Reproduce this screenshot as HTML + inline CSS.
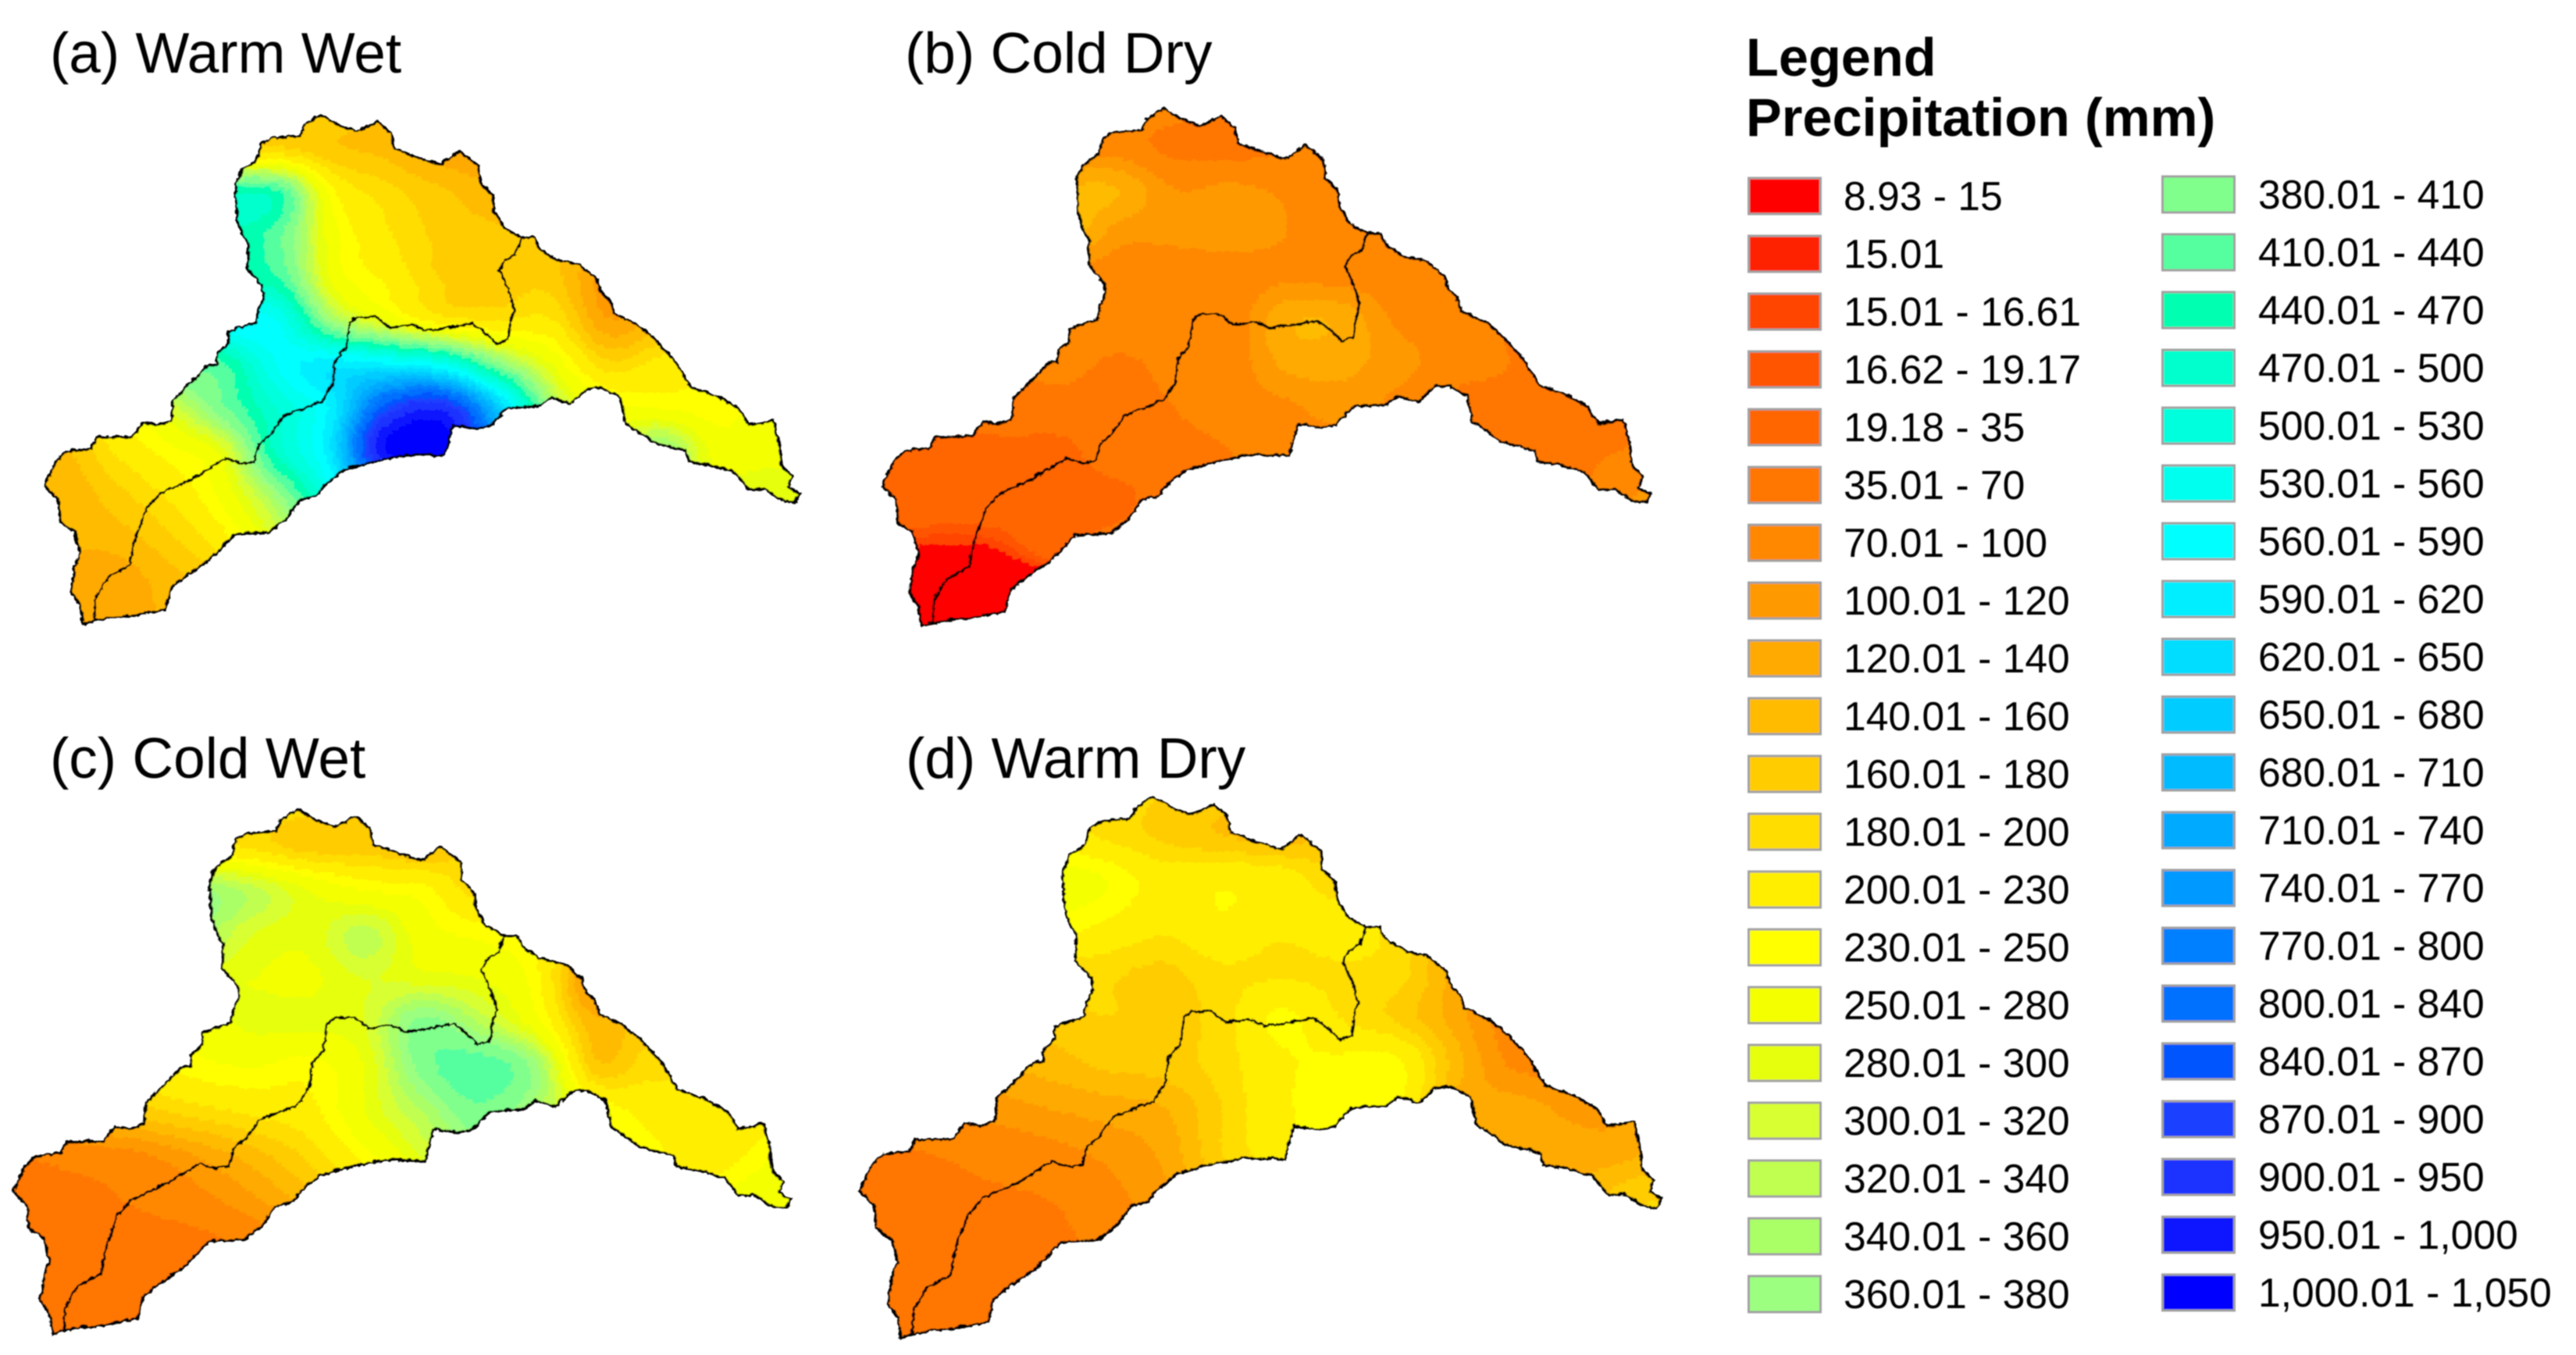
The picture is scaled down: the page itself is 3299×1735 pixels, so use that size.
<!DOCTYPE html>
<html lang="en">
<head>
<meta charset="utf-8">
<title>Precipitation maps</title>
<style>
html,body{margin:0;padding:0;background:#fff;}
svg{display:block;font-family:"Liberation Sans",sans-serif;}
</style>
</head>
<body>
<svg id="chart" xmlns="http://www.w3.org/2000/svg" width="3299" height="1735" viewBox="0 0 3299 1735">
<defs>
<filter id="rough" filterUnits="userSpaceOnUse" x="0" y="0" width="3299" height="1735">
<feTurbulence type="turbulence" baseFrequency="0.09" numOctaves="2" seed="4" result="n"/>
<feDisplacementMap in="SourceGraphic" in2="n" scale="5" xChannelSelector="R" yChannelSelector="G" result="d"/>
<feGaussianBlur in="d" stdDeviation="0.9"/>
</filter>
<filter id="soft" filterUnits="userSpaceOnUse" x="0" y="0" width="3299" height="1735">
<feGaussianBlur stdDeviation="0.8"/>
</filter>
<path id="basin-outline" vector-effect="non-scaling-stroke" d="M583 266L620 292L650 305L688 283L712 310L718 345L760 365L803 382L838 350L872 385L875 425L897 455L900 490L918 530L950 552L973 552L985 580L1015 605L1055 615L1088 650L1095 680L1112 700L1118 730L1160 755L1190 785L1230 840L1258 900L1310 925L1345 950L1365 990L1410 980L1420 1030L1425 1085L1445 1110L1437 1135L1458 1150L1450 1170L1425 1165L1395 1140L1365 1140L1340 1100L1300 1085L1255 1075L1250 1050L1190 1030L1140 985L1130 925L1095 902L1070 905L1040 940L1005 925L985 945L925 950L895 990L870 998L825 990L810 1062L740 1060L680 1075L625 1095L590 1130L575 1155L545 1165L520 1210L490 1240L425 1245L385 1300L340 1340L310 1370L300 1420L240 1435L200 1440L165 1448L150 1455L145 1410L128 1380L135 1320L145 1290L135 1240L108 1215L105 1165L80 1132L100 1075L120 1052L165 1045L175 1020L240 1018L260 985L285 990L312 980L315 930L355 880L378 850L395 848L395 822L415 800L415 772L465 750L470 720L480 690L478 665L450 625L452 570L440 545L432 510L428 430L440 395L468 370L475 335L495 320L545 315L555 290Z"/>
<path id="basin-divider" vector-effect="non-scaling-stroke" d="M170 1448L172 1395L195 1345L235 1318L245 1255L265 1185L290 1150L350 1115L410 1068L440 1080L462 1075L470 1035L490 1015L515 970L585 935L605 895L610 840L630 810L637 750L650 738L685 738L710 762L750 755L775 770L820 762L860 752L885 775L905 800L925 790L930 745L937 720L925 670L910 630L920 605L940 590L950 552"/>
<clipPath id="basin-clip"><use href="#basin-outline"/></clipPath>
</defs>
<rect x="0" y="0" width="3299" height="1735" fill="#ffffff"/>
<g id="maps" filter="url(#rough)"></g>
<g id="text-layer" filter="url(#soft)">
<text x="64" y="93" font-size="73">(a) Warm Wet</text>
<text x="1159" y="93" font-size="73">(b) Cold Dry</text>
<text x="64" y="996" font-size="73">(c) Cold Wet</text>
<text x="1160" y="996" font-size="73">(d) Warm Dry</text>
<text x="2236" y="97" font-size="68.5" font-weight="bold">Legend</text>
<text x="2236" y="174" font-size="68.5" font-weight="bold">Precipitation (mm)</text>
<g id="legend"></g>
</g>
</svg>
<script>
const classLabels = ["8.93 - 15","15.01","15.01 - 16.61","16.62 - 19.17","19.18 - 35","35.01 - 70","70.01 - 100","100.01 - 120","120.01 - 140","140.01 - 160","160.01 - 180","180.01 - 200","200.01 - 230","230.01 - 250","250.01 - 280","280.01 - 300","300.01 - 320","320.01 - 340","340.01 - 360","360.01 - 380","380.01 - 410","410.01 - 440","440.01 - 470","470.01 - 500","500.01 - 530","530.01 - 560","560.01 - 590","590.01 - 620","620.01 - 650","650.01 - 680","680.01 - 710","710.01 - 740","740.01 - 770","770.01 - 800","800.01 - 840","840.01 - 870","870.01 - 900","900.01 - 950","950.01 - 1,000","1,000.01 - 1,050"];
const classUpper = [15,15.01,16.61,19.17,35,70,100,120,140,160,180,200,230,250,280,300,320,340,360,380,410,440,470,500,530,560,590,620,650,680,710,740,770,800,840,870,900,950,1000,1050];
const classColors = ["#ff0000","#ff2200","#ff4400","#ff5500","#ff6600","#ff7700","#ff8800","#ff9900","#ffaa00","#ffbb00","#ffcc00","#ffdd00","#ffee00","#ffff00","#f4ff00","#e6ff10","#d8ff30","#c0ff50","#aaff66","#9cff80","#80ff8c","#55ffa0","#00ffb0","#00ffcc","#00ffdd","#00ffee","#00ffff","#00eeff","#00ddff","#00ccff","#00bbff","#00aaff","#0099ff","#0080ff","#0070ff","#0055ff","#1a40ff","#1a30ff","#1018ff","#0000ff"];

const warmWet = [
[170,170,170,170,185,170,160,145,135,135,135,135,135,135,135],
[170,170,170,180,190,165,155,130,125,130,130,130,130,130,130],
[170,170,200,440,450,240,190,165,145,150,140,130,130,130,130],
[200,220,300,450,420,265,205,175,165,160,140,130,180,220,240],
[210,260,380,450,445,275,225,180,170,170,110,110,170,220,240],
[200,250,400,560,560,370,285,225,205,205,125,150,200,220,240],
[180,240,410,430,560,610,600,560,400,280,190,210,230,230,240],
[170,230,300,400,500,600,860,930,680,360,265,250,240,260,260],
[150,200,240,290,480,620,1000,1045,720,400,300,370,270,265,290],
[140,170,205,260,370,540,700,800,600,400,300,330,290,300,270],
[145,150,175,220,300,400,500,500,400,350,300,300,300,280,260],
[130,125,150,175,200,250,300,300,300,300,300,300,300,280,260],
[125,125,145,165,200,250,300,300,300,300,300,300,300,280,260]];
const coldDry = [
[85,85,85,85,85,85,60,60,85,85,85,85,85,85,85],
[85,85,85,85,85,60,55,65,85,85,85,85,85,85,85],
[85,85,105,140,140,100,105,95,85,85,85,85,85,85,85],
[85,85,100,150,110,105,110,100,85,85,85,85,85,85,85],
[85,85,85,90,85,85,85,95,90,85,75,60,70,85,85],
[85,85,85,85,90,85,85,135,135,95,85,65,60,70,85],
[60,60,70,80,65,80,85,125,125,110,85,70,60,60,60],
[30,40,55,55,55,70,85,95,110,90,60,60,60,60,60],
[27,27,27,28,55,60,70,85,85,85,60,60,60,70,85],
[27,27,27,27,28,55,70,85,85,85,85,80,60,95,105],
[17,16,18,30,40,55,60,70,85,85,85,85,85,85,85],
[11,11,11,14,40,50,60,70,85,85,85,85,85,85,85],
[11,11,11,12,30,50,60,70,85,85,85,85,85,85,85]];
const coldWet = [
[200,200,200,200,200,185,170,155,180,190,190,190,190,190,190],
[200,200,200,215,195,170,170,155,185,190,190,190,190,190,190],
[200,200,300,360,330,280,250,240,190,215,215,190,215,240,240],
[200,240,300,350,300,285,330,265,245,230,180,190,215,240,240],
[190,230,270,285,280,275,300,290,280,240,110,140,190,230,240],
[170,220,250,265,285,285,300,390,340,265,150,170,200,230,240],
[140,190,215,240,250,240,280,390,430,370,175,190,205,220,240],
[100,150,170,190,205,220,280,340,400,350,260,220,205,215,250],
[70,85,95,120,150,185,240,300,350,320,260,240,215,240,300],
[60,60,75,90,115,150,190,240,300,300,260,240,240,270,280],
[55,55,55,60,80,110,150,200,250,260,260,240,240,250,260],
[50,50,50,55,70,100,140,190,240,250,250,240,240,250,260],
[50,50,50,55,70,100,140,190,240,250,250,240,240,250,260]];
const warmDry = [
[190,190,190,190,190,180,170,160,170,170,170,170,170,170,170],
[190,190,190,215,195,175,160,150,165,170,170,170,170,170,170],
[190,215,250,265,250,215,225,215,185,195,170,170,170,170,170],
[190,215,230,240,225,205,225,205,215,190,140,150,170,170,170],
[185,200,190,190,185,175,195,195,195,190,130,70,100,170,170],
[170,180,170,170,180,170,190,235,200,175,130,85,100,120,170],
[130,150,140,150,165,170,190,225,235,235,150,95,100,120,170],
[90,105,110,120,130,140,180,225,235,230,135,130,115,120,170],
[60,70,80,90,105,125,180,215,230,195,150,140,130,135,170],
[55,60,65,70,90,115,150,170,170,170,150,140,140,175,180],
[55,55,55,60,80,100,130,160,170,170,150,140,140,170,180],
[55,55,55,55,75,100,130,160,170,170,150,140,140,170,180],
[55,55,55,55,75,100,130,160,170,170,150,140,140,170,180]];

const panelDefs = [
  {key:"a", grid:warmWet, tx:0, ty:0, s:1},
  {key:"b", grid:coldDry, tx:1072, ty:-10.5, s:1.017},
  {key:"c", grid:coldWet, tx:-42, ty:885, s:1.03},
  {key:"d", grid:warmDry, tx:1040.5, ty:864, s:1.062}
];

const NS = "http://www.w3.org/2000/svg";
const BASE_X = 0.7015, BASE_Y = 0.5485;       // map units to pixels
const GRID_X0 = 100, GRID_Y0 = 250, GRID_STEP = 100;
const CELL_W = 6, CELL_H = 8;

function cr(p0,p1,p2,p3,t){
  return 0.5*((2*p1)+(-p0+p2)*t+(2*p0-5*p1+4*p2-p3)*t*t+(-p0+3*p1-3*p2+p3)*t*t*t);
}
function gridValue(grid,x,y){
  const rows = grid.length, cols = grid[0].length;
  const gx = Math.max(0,Math.min(cols-1.001,(x-GRID_X0)/GRID_STEP));
  const gy = Math.max(0,Math.min(rows-1.001,(y-GRID_Y0)/GRID_STEP));
  const ix = Math.floor(gx), iy = Math.floor(gy), fx = gx-ix, fy = gy-iy;
  const at = (r,c)=>grid[Math.max(0,Math.min(rows-1,r))][Math.max(0,Math.min(cols-1,c))];
  const v = [];
  for(let r=-1;r<=2;r++){
    v.push(cr(at(iy+r,ix-1),at(iy+r,ix),at(iy+r,ix+1),at(iy+r,ix+2),fx));
  }
  return cr(v[0],v[1],v[2],v[3],fy);
}
function classOf(v){
  for(let i=0;i<classUpper.length;i++){ if(v<=classUpper[i]) return i; }
  return classUpper.length-1;
}
function drawPanel(def){
  const g = document.createElementNS(NS,"g");
  
  
  g.setAttribute("transform","translate("+def.tx+","+def.ty+") scale("+(def.s*BASE_X)+","+(def.s*BASE_Y)+")");
  const clip = document.createElementNS(NS,"g");
  clip.setAttribute("clip-path","url(#basin-clip)");
  
  
  const dByClass = classUpper.map(()=>[]);
  for(let y=250;y<1470;y+=CELL_H){
    let runStart=60, runClass=-1;
    for(let x=60;x<=1480;x+=CELL_W){
      const c = classOf(gridValue(def.grid,x,y+CELL_H/2));
      if(c!==runClass){
        if(runClass>=0) dByClass[runClass].push("M"+runStart+" "+y+"H"+(x+1)+"V"+(y+CELL_H+1)+"H"+runStart+"Z");
        runClass=c; runStart=x;
      }
    }
    dByClass[runClass].push("M"+runStart+" "+y+"H1486V"+(y+CELL_H+1)+"H"+runStart+"Z");
  }
  dByClass.forEach((parts,i)=>{
    if(!parts.length) return;
    const p = document.createElementNS(NS,"path");
    p.setAttribute("d",parts.join(""));
    p.setAttribute("fill",classColors[i]);
    p.setAttribute("shape-rendering","crispEdges");
    
    
    clip.appendChild(p);
  });
  g.appendChild(clip);
  const outline = document.createElementNS(NS,"use");
  outline.setAttribute("href","#basin-outline");
  outline.setAttribute("fill","none");
  outline.setAttribute("stroke","#000000");
  outline.setAttribute("stroke-width","3.2");
  
  
  g.appendChild(outline);
  const divider = document.createElementNS(NS,"use");
  divider.setAttribute("href","#basin-divider");
  divider.setAttribute("fill","none");
  divider.setAttribute("stroke","#000000");
  divider.setAttribute("stroke-width","3.2");
  
  
  g.appendChild(divider);
  document.getElementById("maps").appendChild(g);
}
function drawLegend(){
  const L = document.getElementById("legend");
  const perCol = 20;
  classLabels.forEach((label,i)=>{
    const col = i<perCol?0:1, row = i%perCol;
    const swatchX = col? 2768:2238;
    const textX = col? 2892:2361;
    const cy = (col?249:251)+74*row;
    const item = document.createElementNS(NS,"g");
    
    
    const r = document.createElementNS(NS,"rect");
    r.setAttribute("x",swatchX+1.5);
    r.setAttribute("y",cy-23);
    r.setAttribute("width",92);
    r.setAttribute("height",46);
    r.setAttribute("fill",classColors[i]);
    r.setAttribute("stroke","#a0a0a0");
    r.setAttribute("stroke-width","3");
    
    
    item.appendChild(r);
    const t = document.createElementNS(NS,"text");
    t.setAttribute("x",textX);
    t.setAttribute("y",cy+18);
    t.setAttribute("font-size","51.6");
    t.textContent = label;
    
    
    item.appendChild(t);
    L.appendChild(item);
  });
}
panelDefs.forEach(drawPanel);
drawLegend();
</script>
</body>
</html>
